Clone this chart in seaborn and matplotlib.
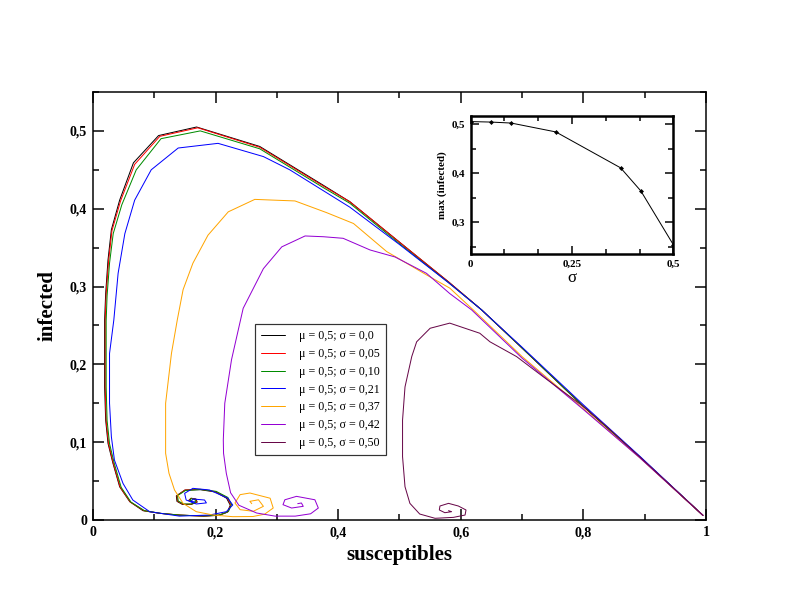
import matplotlib
matplotlib.use("Agg")
import matplotlib.pyplot as plt
from matplotlib.ticker import MultipleLocator
import seaborn as sns

# phase curves (susceptibles, infected)
s_000 = [0.995, 0.892, 0.80, 0.70, 0.634, 0.58, 0.50, 0.419, 0.376, 0.272,
         0.169, 0.107, 0.066, 0.0435, 0.030, 0.0245, 0.0207, 0.019, 0.019, 0.0207,
         0.0245, 0.0326, 0.0435, 0.060, 0.0816, 0.109, 0.141, 0.180, 0.205, 0.219,
         0.224, 0.218, 0.200, 0.175, 0.150, 0.136, 0.137, 0.146, 0.160, 0.170,
         0.168, 0.160, 0.156, 0.161]
i_000 = [0.006, 0.081, 0.146, 0.221, 0.270, 0.306, 0.357, 0.409, 0.430, 0.480,
         0.505, 0.494, 0.459, 0.411, 0.373, 0.334, 0.291, 0.257, 0.171, 0.1285,
         0.0986, 0.0729, 0.0428, 0.0236, 0.012, 0.0086, 0.0064, 0.0050, 0.0060, 0.0100,
         0.0190, 0.0280, 0.0360, 0.0390, 0.0385, 0.0310, 0.0240, 0.0200, 0.0200, 0.0230,
         0.0270, 0.0280, 0.0250, 0.0240]

s_005 = [0.995, 0.892, 0.80, 0.70, 0.634, 0.58, 0.50, 0.419, 0.376, 0.272,
         0.171, 0.109, 0.068, 0.045, 0.031, 0.0255, 0.0215, 0.020, 0.020, 0.0215,
         0.0255, 0.0335, 0.0445, 0.061, 0.083, 0.110, 0.142, 0.180, 0.206, 0.220,
         0.225, 0.219, 0.200, 0.175, 0.150, 0.137, 0.138, 0.147, 0.160, 0.169,
         0.167, 0.160, 0.157, 0.161]
i_005 = [0.006, 0.081, 0.146, 0.221, 0.270, 0.306, 0.357, 0.409, 0.429, 0.479,
         0.504, 0.493, 0.457, 0.410, 0.372, 0.333, 0.290, 0.257, 0.171, 0.128,
         0.098, 0.072, 0.042, 0.023, 0.012, 0.0085, 0.0063, 0.0050, 0.0062, 0.0105,
         0.0195, 0.0285, 0.0365, 0.0395, 0.0385, 0.0312, 0.0242, 0.0203, 0.0203, 0.0231,
         0.0268, 0.0278, 0.0251, 0.0242]

s_010 = [0.995, 0.892, 0.80, 0.70, 0.634, 0.58, 0.50, 0.419, 0.376, 0.272,
         0.175, 0.111, 0.0706, 0.047, 0.033, 0.027, 0.023, 0.0215, 0.0215, 0.023,
         0.027, 0.035, 0.046, 0.062, 0.084, 0.111, 0.143, 0.181, 0.207, 0.221,
         0.226, 0.220, 0.201, 0.176, 0.151, 0.138, 0.139, 0.148, 0.161, 0.168,
         0.166, 0.160, 0.158, 0.161]
i_010 = [0.006, 0.081, 0.146, 0.221, 0.270, 0.305, 0.355, 0.407, 0.427, 0.477,
         0.500, 0.490, 0.450, 0.405, 0.368, 0.330, 0.288, 0.256, 0.171, 0.128,
         0.098, 0.072, 0.042, 0.023, 0.012, 0.0085, 0.0062, 0.0052, 0.0065, 0.0110,
         0.0200, 0.0290, 0.0368, 0.0392, 0.0380, 0.0314, 0.0244, 0.0206, 0.0206, 0.0232,
         0.0265, 0.0275, 0.0252, 0.0244]

s_021 = [0.995, 0.892, 0.80, 0.70, 0.634, 0.58, 0.50, 0.419, 0.321, 0.278,
         0.204, 0.139, 0.095, 0.068, 0.052, 0.041, 0.034, 0.027, 0.027, 0.030,
         0.035, 0.049, 0.065, 0.0925, 0.141, 0.190, 0.2175, 0.228, 0.220, 0.190,
         0.163, 0.1495, 0.152, 0.1685, 0.185, 0.182, 0.163, 0.160, 0.166]
i_021 = [0.006, 0.082, 0.148, 0.222, 0.270, 0.305, 0.354, 0.402, 0.450, 0.467,
         0.484, 0.478, 0.450, 0.411, 0.368, 0.317, 0.257, 0.214, 0.150, 0.107,
         0.077, 0.047, 0.0257, 0.0107, 0.005, 0.0064, 0.0107, 0.0193, 0.028, 0.0386,
         0.0407, 0.0343, 0.0257, 0.0206, 0.022, 0.0257, 0.027, 0.0236, 0.0235]

s_037 = [0.995, 0.892, 0.80, 0.70, 0.623, 0.582, 0.544, 0.479, 0.425, 0.381,
         0.3295, 0.296, 0.264, 0.2207, 0.1876, 0.163, 0.147, 0.1375, 0.128, 0.1185,
         0.1185, 0.124, 0.133, 0.147, 0.1685, 0.196, 0.228, 0.261, 0.280, 0.294,
         0.289, 0.256, 0.240, 0.2316, 0.240, 0.2615, 0.278, 0.270, 0.256, 0.259]
i_037 = [0.006, 0.080, 0.143, 0.210, 0.268, 0.298, 0.315, 0.345, 0.381, 0.395,
         0.410, 0.411, 0.412, 0.396, 0.366, 0.330, 0.296, 0.257, 0.214, 0.150,
         0.0857, 0.060, 0.0386, 0.0214, 0.0107, 0.0064, 0.0043, 0.0045, 0.0075, 0.0154,
         0.028, 0.0347, 0.0326, 0.0219, 0.0133, 0.0112, 0.0176, 0.026, 0.024, 0.021]

s_042 = [0.995, 0.892, 0.80, 0.70, 0.6177, 0.582, 0.544, 0.4927, 0.452, 0.408,
         0.376, 0.346, 0.308, 0.278, 0.245, 0.226, 0.215, 0.2126, 0.213, 0.2175,
         0.2245, 0.238, 0.267, 0.297, 0.330, 0.355, 0.3676, 0.362, 0.332, 0.313,
         0.310, 0.324, 0.343, 0.340, 0.334]
i_042 = [0.006, 0.080, 0.142, 0.208, 0.270, 0.291, 0.317, 0.338, 0.347, 0.362,
         0.364, 0.365, 0.351, 0.323, 0.272, 0.206, 0.150, 0.103, 0.0857, 0.060,
         0.035, 0.019, 0.009, 0.005, 0.005, 0.008, 0.0154, 0.026, 0.0304, 0.026,
         0.0197, 0.0154, 0.0176, 0.0219, 0.021]

s_050 = [0.995, 0.892, 0.838, 0.80, 0.7346, 0.691, 0.6476, 0.631, 0.582, 0.55,
         0.528, 0.52, 0.509, 0.505, 0.505, 0.509, 0.517, 0.533, 0.558, 0.588,
         0.607, 0.6085, 0.596, 0.58, 0.566, 0.565, 0.574, 0.585, 0.580]
i_050 = [0.006, 0.081, 0.12, 0.1457, 0.184, 0.21, 0.229, 0.24, 0.253, 0.2464,
         0.229, 0.21, 0.171, 0.1285, 0.0814, 0.0428, 0.0214, 0.0077, 0.0022, 0.0034,
         0.0064, 0.0129, 0.018, 0.0214, 0.018, 0.0129, 0.0094, 0.0107, 0.012]

labels = ["μ = 0,5; σ = 0,0", "μ = 0,5; σ = 0,05", "μ = 0,5; σ = 0,10",
          "μ = 0,5; σ = 0,21", "μ = 0,5; σ = 0,37", "μ = 0,5; σ = 0,42",
          "μ = 0,5, σ = 0,50"]

# inset: peak of infected vs sigma
sigma_vals = [0.0, 0.05, 0.10, 0.21, 0.37, 0.42, 0.50]
max_infected = [0.505, 0.504, 0.502, 0.484, 0.411, 0.364, 0.255]

x_ticks = [0, 0.2, 0.4, 0.6, 0.8, 1.0]
x_ticklabels = ["0", "0,2", "0,4", "0,6", "0,8", "1"]
y_ticks = [0, 0.1, 0.2, 0.3, 0.4, 0.5]
y_ticklabels = ["0", "0,1", "0,2", "0,3", "0,4", "0,5"]
in_x_ticks = [0, 0.25, 0.5]
in_x_ticklabels = ["0", "0,25", "0,5"]
in_y_ticks = [0.3, 0.4, 0.5]
in_y_ticklabels = ["0,3", "0,4", "0,5"]

sns.set_style("ticks", {"axes.edgecolor": "black", "text.color": "black",
                        "axes.labelcolor": "black", "xtick.color": "black",
                        "ytick.color": "black"})
plt.rcParams["font.family"] = ["Liberation Serif", "DejaVu Serif"]

colors = ["black", "#ff0000", "#008b00", "#0000ff", "#ffa500", "#9400d3", "#670748"]
curves = [(s_000, i_000), (s_005, i_005), (s_010, i_010), (s_021, i_021),
          (s_037, i_037), (s_042, i_042), (s_050, i_050)]

fig = plt.figure(figsize=(11, 8.5), dpi=72)
ax = fig.add_axes([0.1174, 0.1503, 0.7740, 0.6994])

for (s, i), c, lab in zip(curves, colors, labels):
    sns.lineplot(x=s, y=i, sort=False, estimator=None, color=c, lw=1.0,
                 label=lab, ax=ax)

ax.set_xlim(0, 1)
ax.set_ylim(0, 0.55)
ax.set_xticks(x_ticks, x_ticklabels)
ax.set_yticks(y_ticks, y_ticklabels)
ax.xaxis.set_minor_locator(MultipleLocator(0.1))
ax.yaxis.set_minor_locator(MultipleLocator(0.05))
ax.tick_params(which="both", direction="in", top=True, right=True,
               labelsize=14, width=1.5, pad=6, colors="black")
ax.tick_params(which="major", length=11)
ax.tick_params(which="minor", length=6)
for t in ax.get_xticklabels() + ax.get_yticklabels():
    t.set_fontweight("bold")
for sp in ax.spines.values():
    sp.set_linewidth(1.5)
    sp.set_color("black")
ax.set_xlabel("susceptibles", fontsize=21, fontweight="bold", labelpad=6, color="black")
ax.set_ylabel("infected", fontsize=21, fontweight="bold", labelpad=12, color="black")

leg = ax.legend(loc="lower left", bbox_to_anchor=(0.264, 0.152), fontsize=12,
                frameon=True, fancybox=False, edgecolor="black",
                handlelength=2.0, handletextpad=1.2, labelspacing=0.48,
                borderpad=0.5, borderaxespad=0)
leg.get_frame().set_linewidth(1.2)
for t in leg.get_texts():
    t.set_color("black")

# inset
ax2 = fig.add_axes([0.5943, 0.585, 0.2558, 0.226])
sns.lineplot(x=sigma_vals, y=max_infected, color="black", lw=1.0, marker="D",
             markersize=3.5, markeredgewidth=0, ax=ax2)
ax2.set_xlim(0, 0.5)
ax2.set_ylim(0.236, 0.517)
ax2.set_xticks(in_x_ticks, in_x_ticklabels)
ax2.set_yticks(in_y_ticks, in_y_ticklabels)
ax2.xaxis.set_minor_locator(MultipleLocator(0.25 / 3))
ax2.yaxis.set_minor_locator(MultipleLocator(0.05))
ax2.tick_params(which="both", direction="in", top=True, right=True,
                labelsize=11, width=1.5, pad=6, colors="black")
ax2.tick_params(which="major", length=8)
ax2.tick_params(which="minor", length=5)
for t in ax2.get_xticklabels() + ax2.get_yticklabels():
    t.set_fontweight("bold")
for sp in ax2.spines.values():
    sp.set_linewidth(2.5)
    sp.set_color("black")
ax2.set_xlabel("σ", fontsize=17, labelpad=1, color="black")
ax2.set_ylabel("max (infected)", fontsize=11, fontweight="bold", labelpad=4, color="black")

fig.savefig("out.png", dpi=72)
